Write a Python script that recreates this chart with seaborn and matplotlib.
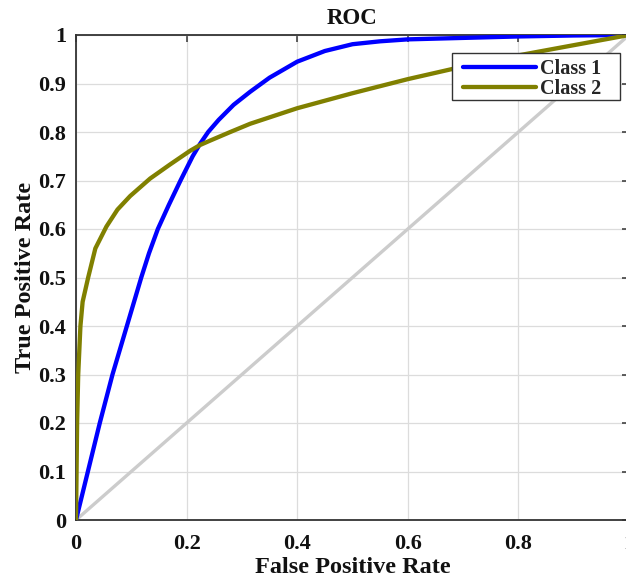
import matplotlib
matplotlib.use("Agg")
import matplotlib.pyplot as plt
from matplotlib.patches import Rectangle
import seaborn as sns
import pandas as pd

# Data
class1_fpr = [0, 0.043, 0.066, 0.092, 0.118, 0.132, 0.148, 0.168, 0.189, 0.211, 0.224, 0.239,
              0.258, 0.285, 0.315, 0.35, 0.4, 0.45, 0.5, 0.55, 0.6, 0.7, 0.8, 0.9, 1.0]
class1_tpr = [0, 0.2, 0.3, 0.4, 0.5, 0.55, 0.6, 0.65, 0.7, 0.75, 0.775, 0.8,
              0.825, 0.856, 0.883, 0.912, 0.945, 0.967, 0.981, 0.987, 0.991, 0.994, 0.997, 0.999, 1.0]
class2_fpr = [0, 0.001, 0.002, 0.004, 0.008, 0.012, 0.022, 0.035, 0.055, 0.075, 0.098, 0.134,
              0.17, 0.206, 0.224, 0.242, 0.279, 0.315, 0.4, 0.5, 0.6, 0.7, 0.8, 0.9, 1.0]
class2_tpr = [0, 0.1, 0.2, 0.3, 0.4, 0.45, 0.5, 0.56, 0.605, 0.64, 0.668, 0.704,
              0.733, 0.761, 0.773, 0.782, 0.8, 0.817, 0.849, 0.88, 0.909, 0.935, 0.958, 0.979, 1.0]
labels = ["Class 1", "Class 2"]
colors = ["#0000ff", "#808000"]
x_ticks = [0, 0.2, 0.4, 0.6, 0.8, 1]
x_ticklabels = ["0", "0.2", "0.4", "0.6", "0.8", "1"]
y_ticks = [0, 0.1, 0.2, 0.3, 0.4, 0.5, 0.6, 0.7, 0.8, 0.9, 1]
y_ticklabels = ["0", "0.1", "0.2", "0.3", "0.4", "0.5", "0.6", "0.7", "0.8", "0.9", "1"]

df = pd.concat([
    pd.DataFrame({"fpr": class1_fpr, "tpr": class1_tpr, "cls": labels[0]}),
    pd.DataFrame({"fpr": class2_fpr, "tpr": class2_tpr, "cls": labels[1]}),
], ignore_index=True)

sns.set_style("white")
plt.rcParams["font.family"] = ["Liberation Serif", "DejaVu Serif"]
plt.rcParams["font.weight"] = "bold"

W, H = 626, 581
fig = plt.figure(figsize=(W / 100, H / 100), dpi=100)
ax = fig.add_axes([76 / W, 61 / H, 553 / W, 485 / H])

ax.plot([0, 1], [0, 1], color="#cccccc", lw=2.4, zorder=1.5, solid_capstyle="butt")
sns.lineplot(data=df, x="fpr", y="tpr", hue="cls", palette=dict(zip(labels, colors)),
             estimator=None, sort=False, lw=3.1, ax=ax, zorder=3, legend=False)

ax.set_xlim(0, 1)
ax.set_ylim(0, 1)
ax.set_xticks(x_ticks)
ax.set_xticklabels(x_ticklabels)
ax.set_yticks(y_ticks)
ax.set_yticklabels(y_ticklabels)
ax.grid(True, color="#dcdcdc", lw=0.9, zorder=0)
ax.set_axisbelow(True)
for s in ax.spines.values():
    s.set_color("#333333")
    s.set_linewidth(1.3)
ax.tick_params(direction="in", length=5, width=1.1, color="#333333",
               top=True, right=True, labelsize=16, labelcolor="#111111")
ax.tick_params(axis="x", pad=10)
ax.tick_params(axis="y", pad=7)
for lab in ax.get_xticklabels() + ax.get_yticklabels():
    lab.set_fontweight("bold")

ax.set_xlabel("False Positive Rate", fontsize=17.5, fontweight="bold", labelpad=2, color="#111111")
ax.set_ylabel("True Positive Rate", fontsize=17.5, fontweight="bold", labelpad=2, color="#111111")
ax.set_title("ROC", fontsize=16.5, fontweight="bold", pad=8, color="#111111")

# legend box (MATLAB style, extra right padding)
box = Rectangle((452 / W, 1 - 100 / H), 168 / W, 47 / H, transform=fig.transFigure,
                facecolor="white", edgecolor="#333333", lw=1.0, zorder=4, clip_on=False)
ax.add_patch(box)
handles = [plt.Line2D([], [], color=c, lw=3.1) for c in colors]
leg = ax.legend(handles, labels, loc="center left",
                bbox_to_anchor=(463 / W, 1 - 79 / H), bbox_transform=fig.transFigure,
                prop={"size": 14.5, "weight": "bold", "family": "Liberation Serif"},
                frameon=False, handlelength=3.6, labelspacing=0.0, borderpad=0,
                handletextpad=0.2, borderaxespad=0)
leg.set_zorder(5)

fig.savefig("out.png", dpi=100)
